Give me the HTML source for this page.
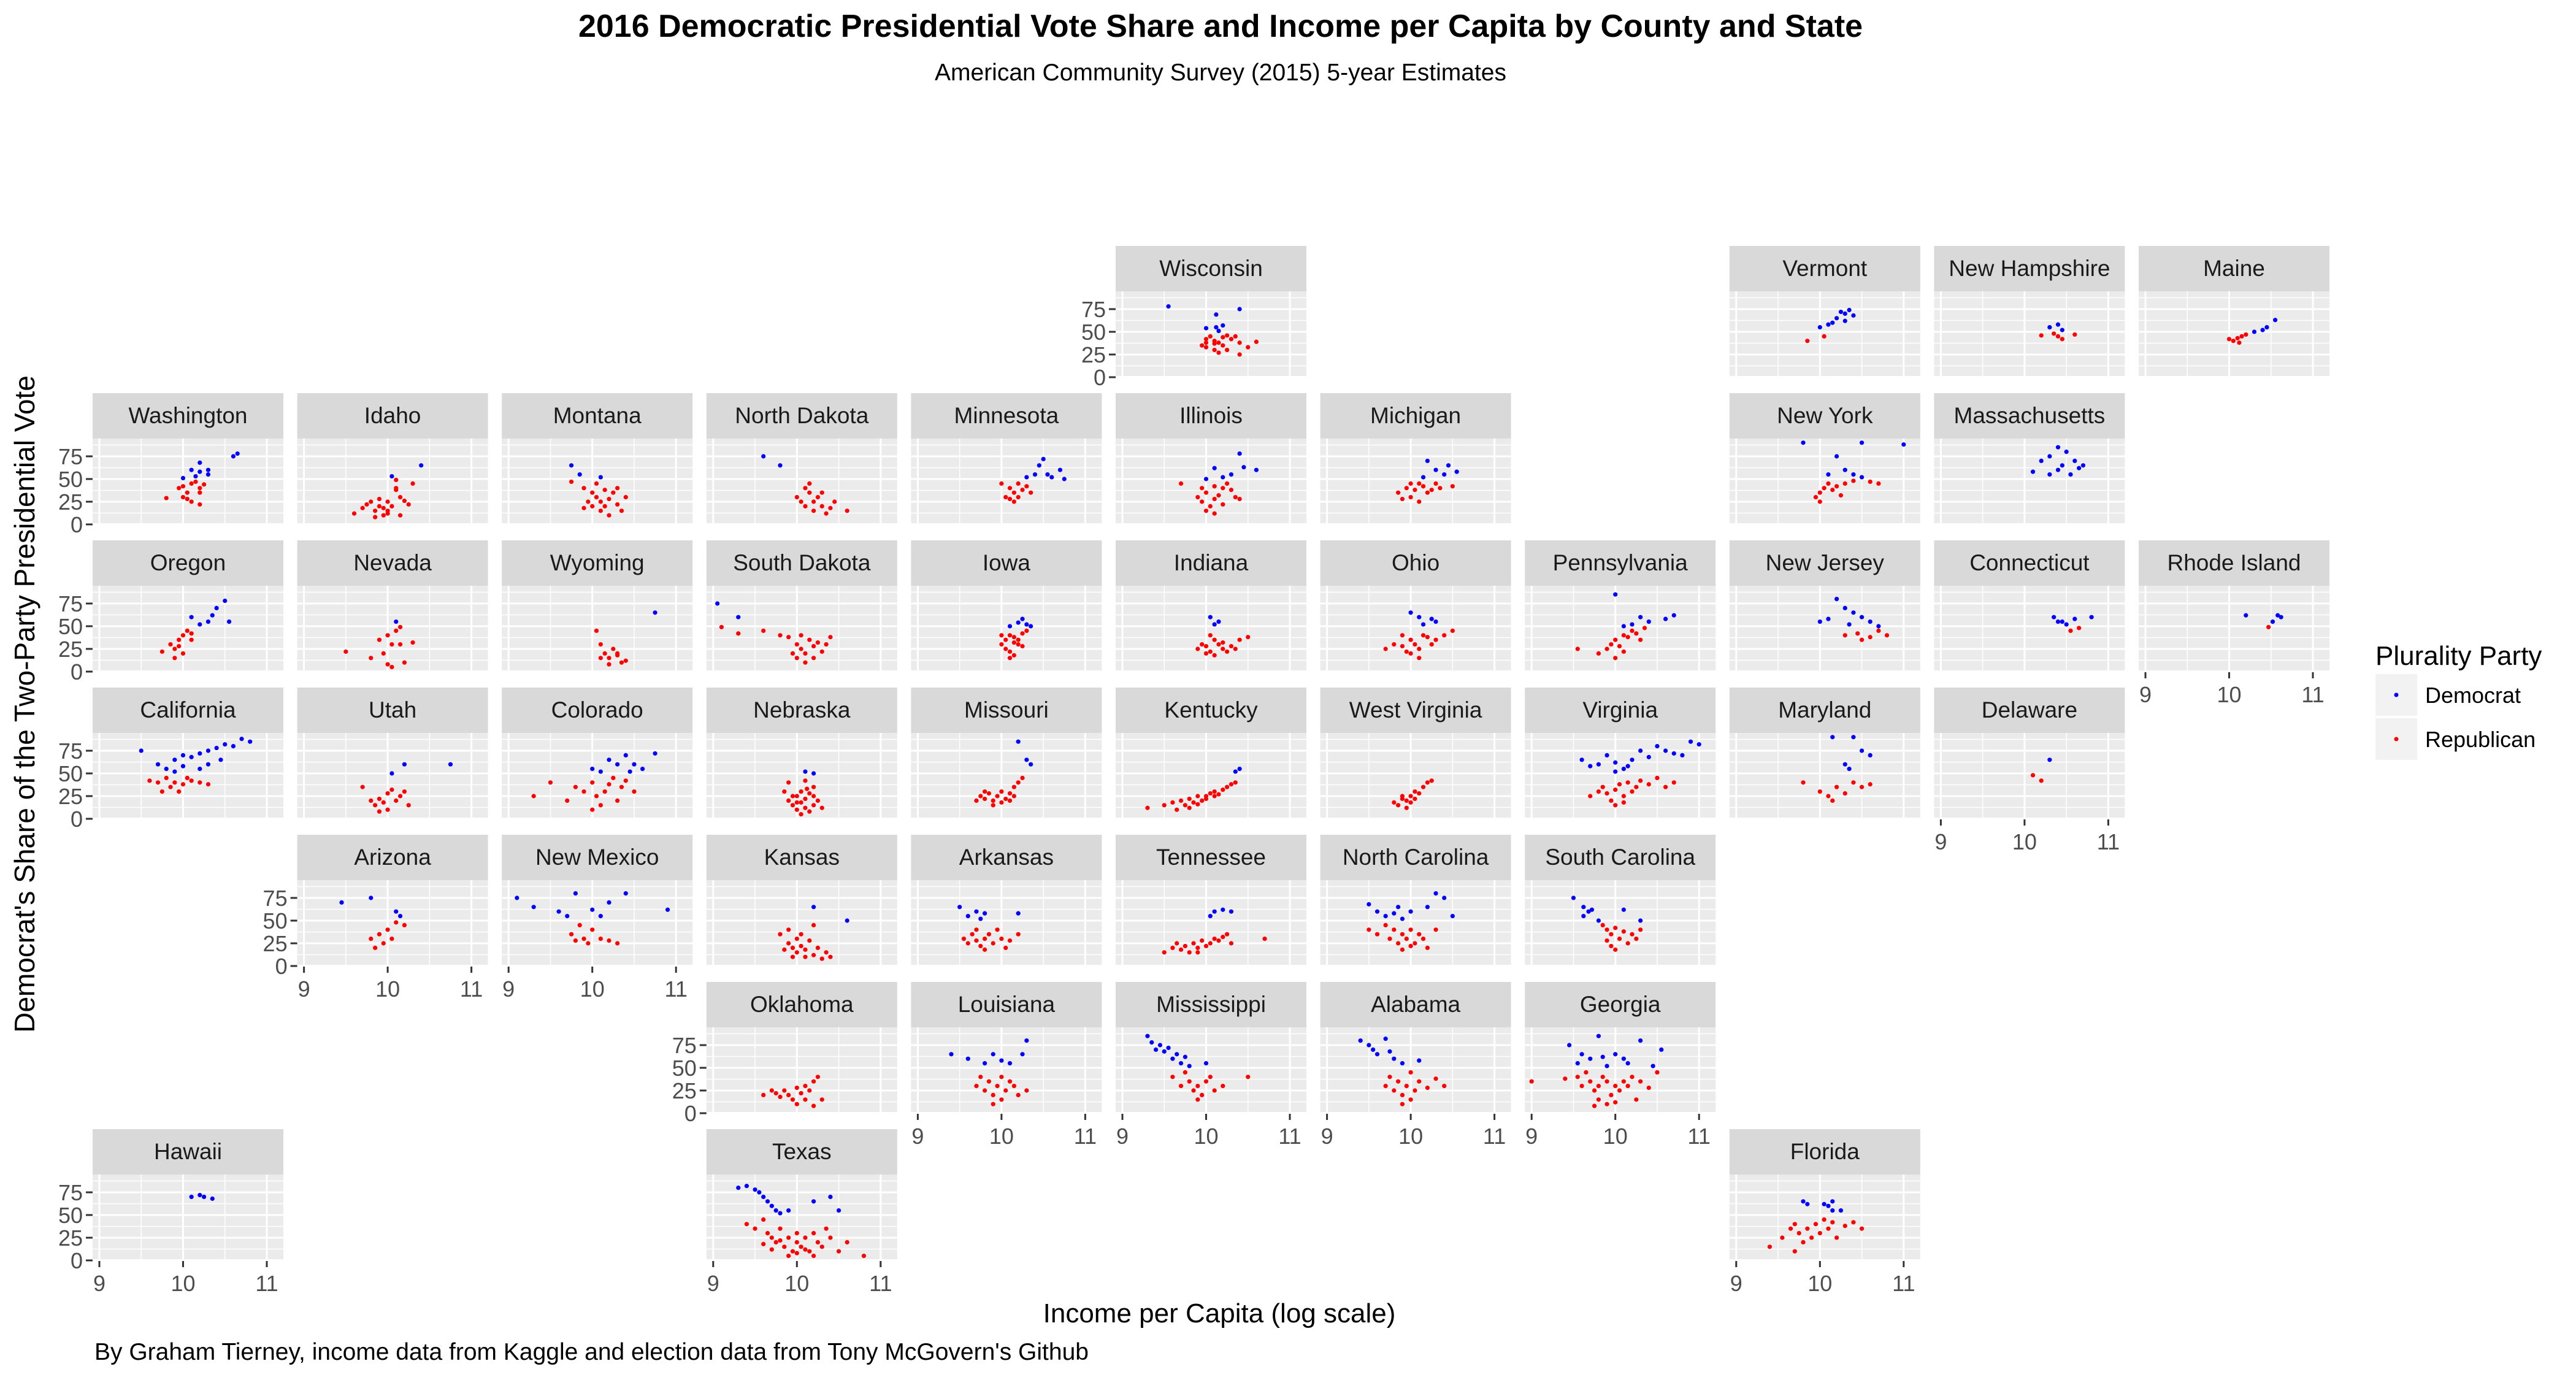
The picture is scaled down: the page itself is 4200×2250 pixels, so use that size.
<!DOCTYPE html>
<html><head><meta charset="utf-8"><style>
html,body{margin:0;padding:0;background:#fff;}
svg{display:block;font-family:"Liberation Sans",Arial,sans-serif;}
</style></head><body>
<svg id="chart" width="4200" height="2250" viewBox="0 0 4200 2250" xmlns="http://www.w3.org/2000/svg">
<text x="1990" y="60" text-anchor="middle" font-size="52" font-weight="bold" fill="#000">2016 Democratic Presidential Vote Share and Income per Capita by County and State</text>
<text x="1990" y="131" text-anchor="middle" font-size="39" fill="#000">American Community Survey (2015) 5-year Estimates</text>
<text transform="translate(56,1148) rotate(-90)" text-anchor="middle" font-size="46" fill="#000">Democrat's Share of the Two-Party Presidential Vote</text>
<text x="1988" y="2156" text-anchor="middle" font-size="44" fill="#000">Income per Capita (log scale)</text>
<text x="154" y="2217" font-size="39" fill="#000">By Graham Tierney, income data from Kaggle and election data from Tony McGovern's Github</text>
<g>
<text x="3873" y="1084" font-size="44" fill="#000">Plurality Party</text>
<rect x="3873" y="1099" width="68" height="68" fill="#f2f2f2"/>
<circle cx="3907" cy="1133" r="3.5" fill="#0000ff"/>
<text x="3954" y="1146" font-size="36" fill="#000">Democrat</text>
<rect x="3873" y="1171" width="68" height="68" fill="#f2f2f2"/>
<circle cx="3907" cy="1205" r="3.5" fill="#ff0000"/>
<text x="3954" y="1218" font-size="36" fill="#000">Republican</text>
</g>
<g id="panels"></g>
</svg>
<script>
const xTicks = [9, 10, 11];
const xMinor = [9.5, 10.5];
const yTicks = [0, 25, 50, 75];
const yMinor = [12.5, 37.5, 62.5, 87.5];
const states = [
 ["Wisconsin",5,0],["Vermont",8,0],["New Hampshire",9,0],["Maine",10,0],
 ["Washington",0,1],["Idaho",1,1],["Montana",2,1],["North Dakota",3,1],["Minnesota",4,1],["Illinois",5,1],["Michigan",6,1],["New York",8,1],["Massachusetts",9,1],
 ["Oregon",0,2],["Nevada",1,2],["Wyoming",2,2],["South Dakota",3,2],["Iowa",4,2],["Indiana",5,2],["Ohio",6,2],["Pennsylvania",7,2],["New Jersey",8,2],["Connecticut",9,2],["Rhode Island",10,2],
 ["California",0,3],["Utah",1,3],["Colorado",2,3],["Nebraska",3,3],["Missouri",4,3],["Kentucky",5,3],["West Virginia",6,3],["Virginia",7,3],["Maryland",8,3],["Delaware",9,3],
 ["Arizona",1,4],["New Mexico",2,4],["Kansas",3,4],["Arkansas",4,4],["Tennessee",5,4],["North Carolina",6,4],["South Carolina",7,4],
 ["Oklahoma",3,5],["Louisiana",4,5],["Mississippi",5,5],["Alabama",6,5],["Georgia",7,5],
 ["Hawaii",0,6],["Texas",3,6],["Florida",8,6]
];
const WI=[[9.55,78],[10.4,75],[10.12,69],[10.0,54],[10.12,55],[10.2,57],[10.15,51],[10.0,42],[10.05,45],[10.1,40],[10.15,38],[10.2,44],[10.25,46],[9.95,35],[10.0,33],[10.1,30],[10.15,27],[10.3,42],[10.35,45],[10.4,38],[10.5,33],[10.6,39],[10.4,25],[10.2,35],[10.1,37],[10.25,30],[10.0,38]];
const VT=[[10.0,55],[10.1,58],[10.2,65],[10.3,70],[10.35,74],[10.25,72],[10.15,60],[10.4,68],[10.3,62],[9.85,40],[10.05,45]];
const NH=[[10.3,55],[10.4,58],[10.45,52],[10.2,46],[10.35,48],[10.45,42],[10.6,47],[10.4,45]];
const ME=[[10.4,52],[10.45,55],[10.55,63],[10.3,50],[10.05,40],[10.1,43],[10.15,45],[10.2,47],[10.0,42],[10.12,38]];
const WA=[[10.6,75],[10.65,78],[10.2,68],[10.1,60],[10.2,58],[10.3,55],[10.3,60],[10.0,51],[10.15,53],[9.8,29],[9.95,40],[10.0,42],[10.05,35],[10.1,45],[10.15,47],[10.2,40],[10.0,30],[10.1,25],[10.2,22],[10.25,44],[10.2,35],[10.05,28]];
const ID=[[10.4,65],[10.05,53],[9.6,12],[9.7,18],[9.75,22],[9.8,25],[9.85,15],[9.9,20],[9.95,18],[10.0,25],[10.05,20],[10.1,38],[10.1,49],[10.1,40],[10.15,30],[10.2,26],[10.25,22],[10.3,45],[9.95,10],[10.0,12],[9.85,8],[9.9,28],[10.0,15],[10.15,10]];
const MT=[[9.75,65],[9.85,55],[10.1,52],[9.75,47],[9.9,40],[10.0,35],[10.05,30],[10.1,25],[10.15,20],[10.2,28],[10.25,35],[10.3,40],[10.35,15],[10.0,20],[10.1,15],[10.2,10],[10.3,22],[9.95,25],[10.4,30],[10.05,45],[10.15,38],[9.9,18]];
const ND=[[9.6,75],[9.8,65],[10.0,30],[10.1,40],[10.15,35],[10.2,25],[10.25,30],[10.3,20],[10.2,15],[10.1,20],[10.35,12],[10.4,18],[10.45,25],[10.6,15],[10.15,45],[10.05,25],[10.3,35]];
const MN=[[10.5,72],[10.7,60],[10.55,55],[10.6,52],[10.4,55],[10.3,52],[10.45,65],[10.75,50],[10.0,45],[10.1,40],[10.15,35],[10.2,30],[10.25,38],[10.3,42],[10.05,30],[10.15,25],[10.2,45],[10.35,35],[10.1,28]];
const IL=[[10.4,78],[10.1,62],[10.45,63],[10.3,55],[10.0,50],[10.2,52],[10.6,60],[9.7,45],[9.9,30],[9.95,25],[10.0,35],[10.05,20],[10.1,28],[10.15,32],[10.2,40],[10.25,45],[10.3,38],[10.0,15],[10.1,12],[10.2,22],[10.35,30],[10.4,28],[10.1,42],[9.95,40]];
const MI=[[10.2,70],[10.3,60],[10.45,65],[10.4,55],[10.15,52],[10.55,58],[9.85,35],[9.95,40],[10.0,30],[10.05,38],[10.1,45],[10.15,42],[10.2,35],[10.25,38],[10.3,45],[10.1,25],[9.9,28],[10.35,40],[10.5,42],[10.0,45]];
const NY=[[9.8,90],[10.5,90],[11.0,88],[10.2,75],[10.3,60],[10.4,55],[10.5,52],[10.1,55],[9.95,30],[10.0,35],[10.05,40],[10.1,45],[10.15,38],[10.2,42],[10.3,45],[10.4,48],[10.6,47],[10.7,45],[10.0,25],[10.25,32]];
const MA=[[10.4,85],[10.5,80],[10.3,75],[10.2,70],[10.45,65],[10.6,70],[10.7,65],[10.1,58],[10.3,55],[10.55,55],[10.4,60],[10.65,62]];
const OR=[[10.5,78],[10.4,70],[10.1,60],[10.3,55],[10.2,52],[10.35,62],[10.55,55],[9.75,22],[9.85,30],[9.9,25],[9.95,35],[10.0,40],[10.05,45],[10.1,42],[9.9,15],[10.0,20],[9.95,28],[10.1,35]];
const NV=[[10.1,55],[9.5,22],[9.8,15],[9.95,20],[10.0,40],[10.05,30],[10.1,45],[10.15,30],[10.2,10],[10.3,32],[10.0,8],[10.15,49],[9.9,35],[10.05,5]];
const WY=[[10.75,65],[10.05,45],[10.1,30],[10.15,20],[10.2,15],[10.25,25],[10.3,18],[10.35,10],[10.4,12],[10.1,15],[10.2,8],[10.3,20]];
const SD=[[9.05,75],[9.3,60],[9.1,49],[9.3,42],[9.6,45],[9.8,40],[10.0,30],[10.05,25],[10.1,20],[10.15,35],[10.2,28],[10.25,32],[10.3,22],[10.1,10],[10.0,15],[9.95,20],[10.2,15],[10.35,30],[10.4,38],[9.9,38],[10.05,40]];
const IA=[[10.25,58],[10.3,52],[10.1,50],[10.2,54],[10.35,50],[10.0,30],[10.05,35],[10.1,40],[10.15,38],[10.2,30],[10.25,42],[10.3,45],[10.05,25],[10.1,22],[10.15,18],[10.2,35],[10.0,40],[10.1,15],[10.25,28],[10.15,32]];
const IN=[[10.05,60],[10.1,52],[10.15,55],[9.9,25],[9.95,30],[10.0,28],[10.05,22],[10.1,35],[10.15,30],[10.2,25],[10.25,22],[10.3,28],[10.4,35],[10.5,38],[10.0,20],[10.1,18],[10.35,25],[10.05,40],[10.2,32]];
const OH=[[10.0,65],[10.1,60],[10.3,55],[10.15,52],[10.25,58],[9.7,25],[9.8,30],[9.9,28],[9.95,22],[10.0,35],[10.05,30],[10.1,25],[10.15,40],[10.2,38],[10.3,35],[10.4,40],[10.5,45],[10.0,20],[9.9,40],[10.1,15],[10.25,30]];
const PA=[[10.0,85],[10.3,60],[10.4,55],[10.6,58],[10.2,52],[10.1,50],[10.7,62],[9.55,25],[9.8,20],[9.9,25],[9.95,30],[10.0,35],[10.05,28],[10.1,40],[10.15,38],[10.2,45],[10.25,42],[10.3,35],[10.35,48],[10.0,15],[10.1,22]];
const NJ=[[10.2,80],[10.3,70],[10.4,65],[10.5,60],[10.1,58],[10.0,55],[10.6,55],[10.35,52],[10.7,50],[10.3,40],[10.45,42],[10.5,35],[10.6,38],[10.7,45],[10.8,40]];
const CT=[[10.35,60],[10.45,55],[10.5,52],[10.6,58],[10.8,60],[10.4,55],[10.55,45],[10.65,48]];
const RI=[[10.2,62],[10.52,55],[10.58,62],[10.62,60],[10.47,49]];
const CA=[[9.5,75],[9.7,60],[9.8,55],[9.9,65],[10.0,70],[10.1,68],[10.2,72],[10.3,75],[10.4,78],[10.5,82],[10.6,80],[10.7,88],[10.8,85],[10.0,58],[10.2,55],[10.3,60],[9.9,52],[10.45,65],[9.6,42],[9.7,40],[9.8,45],[9.85,35],[9.9,40],[9.95,30],[10.0,38],[10.05,45],[10.1,42],[10.2,40],[10.3,38],[9.75,30]];
const UT=[[10.05,50],[10.2,60],[10.75,60],[9.7,35],[9.8,20],[9.85,15],[9.9,22],[9.95,18],[10.0,28],[10.05,32],[10.1,20],[10.15,25],[10.2,30],[10.25,15],[9.9,8],[10.0,10]];
const CO=[[10.0,55],[10.2,65],[10.3,60],[10.4,70],[10.5,60],[10.6,55],[10.75,72],[10.1,52],[10.45,52],[9.3,25],[9.5,40],[9.7,20],[9.8,35],[9.9,30],[10.0,40],[10.05,25],[10.1,15],[10.15,30],[10.2,38],[10.25,45],[10.3,20],[10.35,35],[10.4,42],[10.5,30],[10.0,10]];
const NE=[[10.1,52],[10.2,50],[9.9,20],[9.95,15],[10.0,25],[10.0,10],[10.05,30],[10.05,18],[10.1,22],[10.1,12],[10.15,28],[10.15,8],[10.2,15],[10.2,35],[10.25,20],[10.3,12],[9.85,30],[9.9,40],[10.05,5],[10.1,42],[9.95,25],[10.2,25],[10.0,18],[10.12,33]];
const MO=[[10.2,85],[10.3,65],[10.35,60],[9.7,20],[9.75,25],[9.8,22],[9.85,28],[9.9,20],[9.95,25],[10.0,30],[10.05,22],[10.1,28],[10.15,35],[10.2,40],[10.25,45],[9.9,15],[10.0,18],[10.1,20],[9.8,30],[10.15,25]];
const KY=[[10.35,52],[10.4,55],[9.3,12],[9.5,15],[9.6,18],[9.7,20],[9.75,15],[9.8,22],[9.85,18],[9.9,25],[9.95,20],[10.0,25],[10.05,28],[10.1,30],[10.15,27],[10.2,32],[10.25,35],[10.3,38],[10.35,40],[9.65,10],[9.8,12],[10.0,22],[10.1,25],[9.9,16]];
const WV=[[9.8,18],[9.85,15],[9.9,22],[9.95,20],[10.0,25],[10.05,22],[10.1,28],[10.15,35],[10.2,40],[10.25,42],[9.95,12],[10.0,18],[9.9,25],[10.05,30]];
const VA=[[9.6,65],[9.7,58],[9.8,60],[9.9,70],[10.0,62],[10.1,55],[10.2,65],[10.3,75],[10.4,68],[10.5,80],[10.6,75],[10.7,72],[10.8,70],[10.9,85],[11.0,82],[10.0,52],[10.15,58],[9.7,25],[9.8,30],[9.85,35],[9.9,28],[9.95,20],[10.0,32],[10.05,38],[10.1,25],[10.15,40],[10.2,30],[10.25,35],[10.3,42],[10.4,38],[10.5,45],[10.6,35],[10.7,40],[10.0,15],[10.1,18]];
const MD=[[10.15,90],[10.4,90],[10.5,75],[10.6,70],[10.3,60],[10.35,55],[9.8,40],[10.0,30],[10.1,25],[10.2,35],[10.3,28],[10.4,40],[10.5,35],[10.6,38],[10.15,20]];
const DE=[[10.3,65],[10.1,48],[10.2,42]];
const AZ=[[9.45,70],[9.8,75],[10.1,60],[10.15,55],[9.8,30],[9.9,35],[9.95,25],[10.0,40],[10.05,30],[10.1,48],[10.2,45],[9.85,20]];
const NM=[[9.1,75],[9.3,65],[9.6,60],[9.8,80],[10.0,62],[10.2,70],[10.4,80],[10.9,62],[9.7,55],[10.1,55],[9.75,35],[9.8,28],[9.9,30],[9.95,25],[10.0,40],[10.1,30],[10.2,28],[9.85,45],[10.3,25]];
const KS=[[10.2,65],[10.6,50],[9.8,35],[9.9,25],[9.95,20],[10.0,30],[10.0,15],[10.05,22],[10.1,18],[10.1,10],[10.15,28],[10.2,12],[10.25,20],[10.3,8],[10.35,15],[9.85,18],[9.9,40],[10.05,35],[10.2,45],[10.4,10],[9.95,10]];
const AR=[[9.5,65],[9.6,55],[9.7,60],[9.75,52],[9.8,58],[10.2,58],[9.55,30],[9.6,25],[9.65,35],[9.7,28],[9.75,22],[9.8,30],[9.85,35],[9.9,25],[9.95,40],[10.0,30],[10.05,20],[10.1,28],[10.2,35],[9.7,40],[9.8,18]];
const TN=[[10.05,55],[10.1,60],[10.2,62],[10.3,60],[9.5,15],[9.6,20],[9.7,18],[9.75,22],[9.8,15],[9.85,25],[9.9,20],[9.95,28],[10.0,22],[10.05,25],[10.1,30],[10.15,28],[10.2,32],[10.25,35],[10.3,25],[10.7,30],[9.65,25],[9.9,15]];
const NC=[[9.5,68],[9.6,60],[9.7,55],[9.8,58],[9.85,65],[9.9,52],[10.0,60],[10.2,65],[10.3,80],[10.4,75],[10.5,55],[9.5,40],[9.6,35],[9.7,45],[9.75,30],[9.8,40],[9.85,25],[9.9,35],[9.95,30],[10.0,40],[10.05,25],[10.1,35],[10.15,30],[10.2,20],[10.3,40],[9.9,18],[10.0,22]];
const SC=[[9.5,75],[9.62,65],[9.68,60],[9.72,62],[9.62,55],[9.8,50],[10.1,62],[10.3,50],[9.85,45],[9.9,40],[9.95,35],[10.0,42],[10.05,30],[10.1,38],[10.15,25],[9.9,28],[9.95,22],[10.0,18],[10.2,35],[10.25,30],[10.3,40]];
const OK=[[9.6,20],[9.7,25],[9.75,22],[9.8,18],[9.85,25],[9.9,20],[9.95,15],[10.0,28],[10.05,22],[10.1,30],[10.15,25],[10.2,35],[10.25,40],[10.0,10],[10.1,15],[10.2,8],[10.3,15]];
const LA=[[9.4,65],[9.6,60],[9.8,55],[9.9,65],[10.0,58],[10.1,55],[10.3,80],[10.25,65],[9.7,30],[9.75,40],[9.8,25],[9.85,35],[9.9,20],[9.95,30],[10.0,40],[10.05,25],[10.1,35],[10.15,30],[10.2,20],[10.3,25],[9.9,10],[10.0,15]];
const MS=[[9.3,85],[9.35,78],[9.4,70],[9.45,75],[9.5,68],[9.55,72],[9.6,60],[9.65,65],[9.7,55],[9.8,52],[10.0,55],[9.75,62],[9.6,40],[9.7,30],[9.75,45],[9.8,35],[9.85,25],[9.9,30],[9.95,20],[10.0,35],[10.05,40],[10.1,25],[10.2,30],[10.5,40],[9.9,15]];
const AL=[[9.4,80],[9.5,75],[9.55,70],[9.6,65],[9.7,82],[9.75,68],[9.8,60],[9.9,55],[10.1,58],[9.7,30],[9.75,40],[9.8,25],[9.85,35],[9.9,20],[9.95,30],[10.0,45],[10.05,25],[10.1,35],[10.2,28],[10.3,38],[10.4,30],[9.9,10],[10.0,15]];
const GA=[[9.8,85],[10.3,80],[9.45,75],[10.55,70],[9.6,65],[9.7,60],[9.85,62],[10.0,65],[10.1,60],[10.15,55],[9.55,55],[10.45,52],[9.9,52],[9.0,35],[9.4,38],[9.55,40],[9.6,30],[9.65,45],[9.7,35],[9.75,25],[9.8,30],[9.85,40],[9.9,35],[9.95,20],[10.0,30],[10.05,25],[10.1,35],[10.15,30],[10.2,40],[10.3,35],[10.4,28],[10.5,45],[9.8,15],[9.9,10],[10.0,12],[10.25,15],[9.75,8]];
const HI=[[10.1,70],[10.2,72],[10.25,70],[10.35,68]];
const TX=[[9.3,80],[9.4,82],[9.5,78],[9.55,75],[9.6,70],[9.65,65],[9.7,60],[9.75,55],[9.8,52],[10.2,65],[10.4,70],[10.5,55],[9.9,55],[9.4,40],[9.5,35],[9.6,45],[9.65,30],[9.7,25],[9.75,20],[9.8,35],[9.85,15],[9.9,25],[9.95,10],[10.0,20],[10.05,15],[10.1,25],[10.15,10],[10.2,30],[10.25,20],[10.3,15],[10.4,25],[10.5,10],[10.6,20],[10.8,5],[9.9,5],[10.0,8],[10.1,12],[9.8,22],[10.0,30],[9.7,12],[10.2,5],[10.35,35],[9.6,18]];
const FL=[[9.8,65],[9.85,62],[10.05,62],[10.1,60],[10.15,65],[10.25,55],[10.15,55],[9.4,15],[9.55,25],[9.65,35],[9.7,40],[9.75,30],[9.8,20],[9.85,35],[9.9,25],[9.95,40],[10.0,30],[10.05,45],[10.1,35],[10.15,42],[10.2,25],[10.3,38],[10.4,42],[10.5,35],[9.7,10]];
const countyData={"Wisconsin":WI,"Vermont":VT,"New Hampshire":NH,"Maine":ME,"Washington":WA,"Idaho":ID,"Montana":MT,"North Dakota":ND,"Minnesota":MN,"Illinois":IL,"Michigan":MI,"New York":NY,"Massachusetts":MA,"Oregon":OR,"Nevada":NV,"Wyoming":WY,"South Dakota":SD,"Iowa":IA,"Indiana":IN,"Ohio":OH,"Pennsylvania":PA,"New Jersey":NJ,"Connecticut":CT,"Rhode Island":RI,"California":CA,"Utah":UT,"Colorado":CO,"Nebraska":NE,"Missouri":MO,"Kentucky":KY,"West Virginia":WV,"Virginia":VA,"Maryland":MD,"Delaware":DE,"Arizona":AZ,"New Mexico":NM,"Kansas":KS,"Arkansas":AR,"Tennessee":TN,"North Carolina":NC,"South Carolina":SC,"Oklahoma":OK,"Louisiana":LA,"Mississippi":MS,"Alabama":AL,"Georgia":GA,"Hawaii":HI,"Texas":TX,"Florida":FL};

const NS="http://www.w3.org/2000/svg";
const root=document.getElementById('panels');
const COL0=151, COLP=333.6, PW=311, ROW0=401, ROWP=240, SH=74, PH=138;
function mk(tag,attrs,parent){const e=document.createElementNS(NS,tag);for(const k in attrs)e.setAttribute(k,attrs[k]);parent.appendChild(e);return e;}
function xs(left,v){return left+11+(v-9)*136.5;}
function ys(bottom,v){return bottom+2-v*1.48;}
const bottomOf={}, leftOf={};
states.forEach(s=>{const [n,c,r]=s; if(bottomOf[c]===undefined||r>bottomOf[c])bottomOf[c]=r; if(leftOf[r]===undefined||c<leftOf[r])leftOf[r]=c;});
states.forEach(s=>{
  const [name,c,r]=s;
  const L=COL0+c*COLP, T=ROW0+r*ROWP, PT=T+SH, B=PT+PH;
  const slug=name.toLowerCase().replace(/ /g,'-');
  const g=mk('g',{},root);
  
  
  const strip=mk('rect',{x:L,y:T,width:PW,height:SH,fill:'#d9d9d9'},g);
  
  
  const st=mk('text',{x:L+PW/2,y:T+49,'text-anchor':'middle','font-size':'37',fill:'#1a1a1a'},g);
  st.textContent=name;
  
  
  const bg=mk('rect',{x:L,y:PT,width:PW,height:PH,fill:'#ebebeb'},g);
  
  
  xMinor.forEach(v=>{const ln=mk('line',{x1:xs(L,v),x2:xs(L,v),y1:PT,y2:B,stroke:'#fff','stroke-width':1.5},g);});
  yMinor.forEach(v=>{const ln=mk('line',{x1:L,x2:L+PW,y1:ys(B,v),y2:ys(B,v),stroke:'#fff','stroke-width':1.5},g);});
  xTicks.forEach(v=>{const ln=mk('line',{x1:xs(L,v),x2:xs(L,v),y1:PT,y2:B,stroke:'#fff','stroke-width':3},g);});
  yTicks.forEach(v=>{const yy=ys(B,v); if(yy<=B){const ln=mk('line',{x1:L,x2:L+PW,y1:yy,y2:yy,stroke:'#fff','stroke-width':3},g);}});
  (countyData[name]||[]).forEach(p=>{
    const dot=mk('circle',{cx:xs(L,p[0]),cy:ys(B,p[1]),r:3.6,fill:p[1]>=50?'#0000ff':'#ff0000'},g);
    
    
  });
  if(bottomOf[c]===r){
    xTicks.forEach(v=>{
      const tk=mk('line',{x1:xs(L,v),x2:xs(L,v),y1:B+3,y2:B+13,stroke:'#333','stroke-width':3},g);
      
      
      const tl=mk('text',{x:xs(L,v),y:B+52,'text-anchor':'middle','font-size':'36',fill:'#4d4d4d'},g);
      tl.textContent=String(v);
      
      
    });
  }
  if(leftOf[r]===c){
    yTicks.forEach(v=>{
      const yy=ys(B,v);
      const tk=mk('line',{x1:L-11,x2:L,y1:yy,y2:yy,stroke:'#333','stroke-width':3},g);
      
      
      const tl=mk('text',{x:L-16,y:yy+13,'text-anchor':'end','font-size':'36',fill:'#4d4d4d'},g);
      tl.textContent=String(v);
      
      
    });
  }
});
</script>
</body></html>
